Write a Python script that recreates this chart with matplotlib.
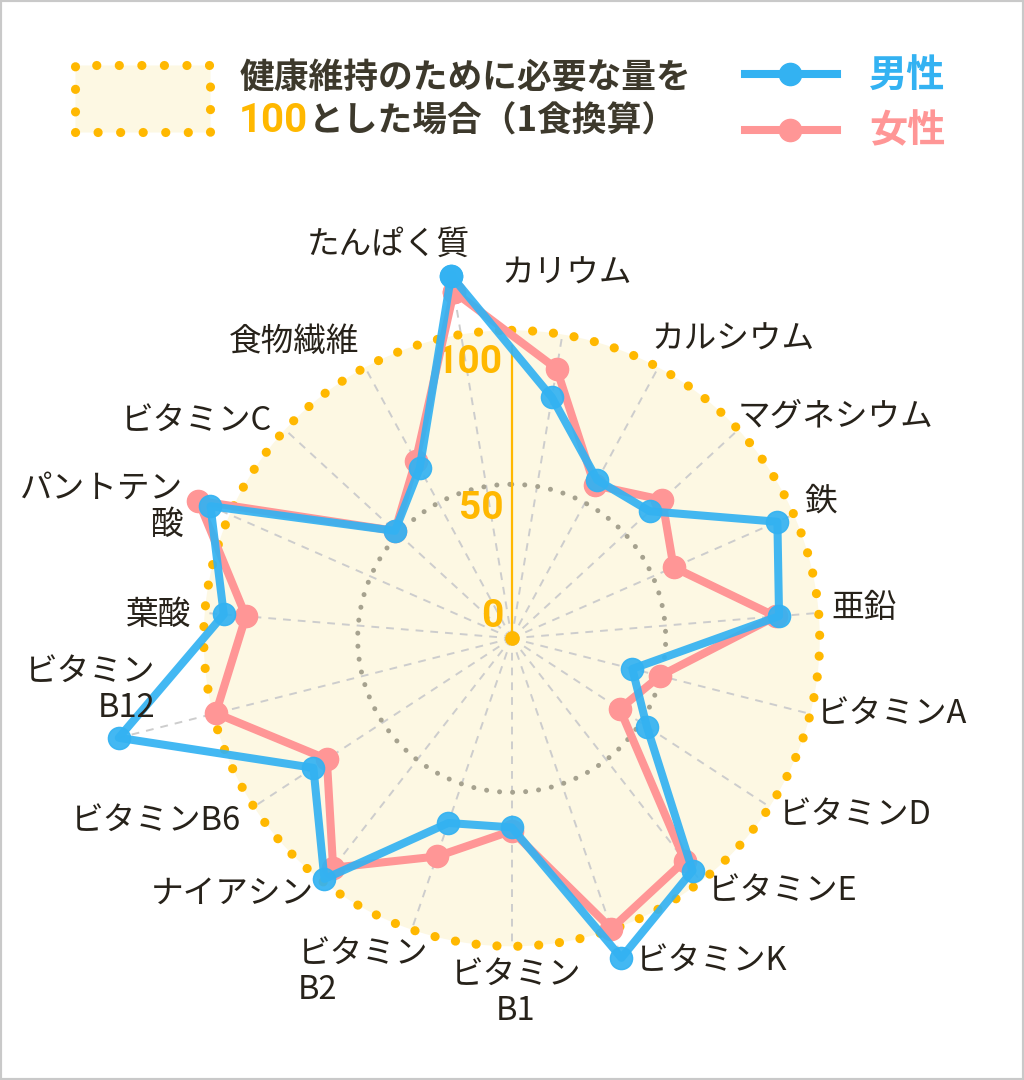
import numpy as np
import matplotlib
matplotlib.use('Agg')
import matplotlib.pyplot as plt
from matplotlib.patches import Rectangle
from matplotlib.lines import Line2D

plt.rcParams['font.family'] = ['Noto Sans CJK JP', 'DejaVu Sans']

# ---------------- data ----------------
categories = ['たんぱく質', 'カリウム', 'カルシウム', 'マグネシウム', '鉄', '亜鉛',
              'ビタミンA', 'ビタミンD', 'ビタミンE', 'ビタミンK', 'ビタミン\nB1',
              'ビタミン\nB2', 'ナイアシン', 'ビタミンB6', 'ビタミン\nB12', '葉酸',
              'パントテン\n酸', 'ビタミンC', '食物繊維']
male = [119.4, 79.3, 58.4, 60.9, 94.2, 87.1, 40.4, 52.4, 95.6, 109.7, 61.4,
        63.4, 99.0, 76.9, 131.6, 93.8, 106.8, 51.5, 62.8]
female = [114.1, 88.7, 56.5, 66.4, 57.4, 86.0, 49.7, 41.9, 91.5, 99.7, 62.5,
          74.9, 94.4, 71.7, 99.1, 86.6, 111.1, 51.5, 65.5]
tick_values = [0, 50, 100]
series_names = ['男性', '女性']
legend_line1 = '健康維持のために必要な量を'
legend_num = '100'
legend_line2 = 'とした場合（1食換算）'

# ---------------- style ----------------
W, H = 1024, 1080
YELLOW = '#ffb800'
CREAM = '#fdf8e3'
BLUE = '#33b2f2'
PINK = '#ff9696'
GRAYDOT = '#a6a28f'
DASH = '#cdcdcd'
TEXT = '#27221a'
LEGTEXT = '#3d392c'

fig = plt.figure(figsize=(W / 100, H / 100), dpi=100)
fig.patch.set_facecolor('white')

cx, cy = 511.7, 638.3          # centre in pixels (from top)
R100 = 308.0                   # pixel radius of value 100
rmax = 135.0
Rpx = R100 * rmax / 100
ax = fig.add_axes([(cx - Rpx) / W, (H - cy - Rpx) / H, 2 * Rpx / W, 2 * Rpx / H],
                  projection='polar')
ax.set_theta_zero_location('N')
ax.set_theta_direction(-1)
ax.set_ylim(0, rmax)
ax.axis('off')

n = len(categories)
step = 2 * np.pi / n
angles = np.array([-step / 2 + i * step for i in range(n)])

th = np.linspace(0, 2 * np.pi, 720)
# cream disk inside the 100 ring
ax.fill(th, np.full_like(th, 100.0), color=CREAM, lw=0, zorder=0)

# dashed spokes
for a, m, f in zip(angles, male, female):
    ax.plot([a, a], [0, max(100, m, f)], color=DASH, lw=1.4,
            linestyle=(0, (4, 3.6)), zorder=1)

# 50 ring (grey dots) and 100 ring (yellow dots)
ax.plot(th, np.full_like(th, 50.0), color=GRAYDOT, lw=3.6,
        linestyle=(0, (0.01, 2.6)), dash_capstyle='round', zorder=2)
ax.plot(th, np.full_like(th, 100.0), color=YELLOW, lw=6.6,
        linestyle=(0, (0.01, 2.27)), dash_capstyle='round', zorder=2)

# yellow radial axis with tick labels
ax.plot([0, 0], [0, 95], color=YELLOW, lw=1.6, zorder=3)
ax.plot([0], [0], 'o', color=YELLOW, ms=9.5, zorder=3)
tick_r = [7, 42, 89.6]
for t, rr in zip(tick_values, tick_r):
    ax.annotate(str(t), xy=(0, rr), xytext=(-6, 0), textcoords='offset points',
                ha='right', va='center', color=YELLOW, fontsize=28,
                fontweight='bold', family=['Roboto', 'DejaVu Sans'], zorder=3)

# series
theta_c = np.append(angles, angles[0])
ax.plot(theta_c, female + female[:1], color=PINK, lw=5.8, marker='o', ms=16,
        solid_joinstyle='round', zorder=5, clip_on=False)
ax.plot(theta_c, male + male[:1], color=BLUE, lw=5.8, marker='o', ms=16,
        solid_joinstyle='round', zorder=6, clip_on=False, alpha=0.92)

# category labels (layout positions in pixels)
label_layout = [(388, 245, 'center'), (567, 274, 'center'), (733, 340, 'center'),
                (836, 416, 'center'), (821, 502, 'center'), (864, 608, 'center'),
                (892, 714, 'center'), (855, 815, 'center'), (783, 891, 'center'),
                (712, 961, 'center'), (516, 993, 'center'), (298, 972, 'left'),
                (232, 894, 'center'), (156, 821, 'center'), (155, 690, 'right'),
                (159, 615, 'center'), (183, 507, 'right'), (197, 421, 'center'),
                (294, 342, 'center')]
for lab, (x, y, ha) in zip(categories, label_layout):
    fig.text(x / W, 1 - y / H, lab, ha=ha, va='center', multialignment=ha,
             fontsize=23.5, color=TEXT, linespacing=1.15)

# ---------------- legend ----------------
box = Rectangle((75 / W, 1 - 132 / H), 135 / W, 67 / H, transform=fig.transFigure,
                facecolor=CREAM, edgecolor=YELLOW, lw=6.6,
                linestyle=(0, (0.01, 2.45)), capstyle='round')
fig.patches.append(box)

fig.text(240 / W, 1 - 78 / H, legend_line1, ha='left', va='center', fontsize=25,
         fontweight='bold', color=LEGTEXT)
t100 = fig.text(239 / W, 1 - 121 / H, legend_num, ha='left', va='center',
                fontsize=29, fontweight='bold', color=YELLOW,
                family=['Roboto', 'DejaVu Sans'])
fig.canvas.draw()
bb = t100.get_window_extent(renderer=fig.canvas.get_renderer())
fig.text((bb.x1 + 1) / W, 1 - 121 / H, legend_line2, ha='left', va='center',
         fontsize=25, fontweight='bold', color=LEGTEXT)

for name, col, y in zip(series_names, [BLUE, PINK], [74, 130]):
    fig.lines.append(Line2D([745 / W, 837 / W], [1 - y / H, 1 - y / H],
                            transform=fig.transFigure, color=col, lw=5.8))
    fig.lines.append(Line2D([790 / W], [1 - y / H], transform=fig.transFigure,
                            color=col, marker='o', ms=16, lw=0))
    fig.text(869 / W, 1 - (y + 1) / H, name, ha='left', va='center', fontsize=27.5,
             fontweight='bold', color=col)

# outer frame
fig.patches.append(Rectangle((0, 0), 1, 1, transform=fig.transFigure, fill=False,
                             edgecolor='#c9c9c9', lw=3))

fig.savefig('out.png', dpi=100, facecolor='white')
